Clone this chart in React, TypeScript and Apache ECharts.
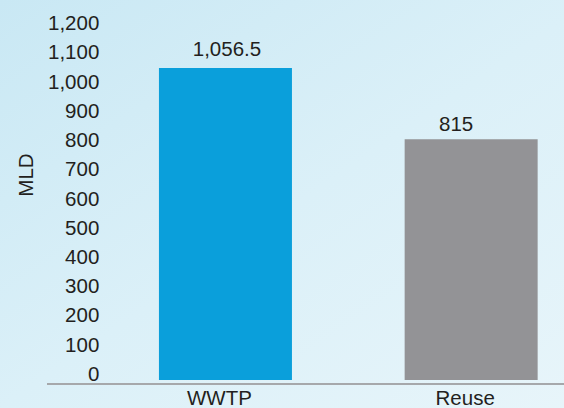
import React, { useEffect, useRef } from "react";
import * as echarts from "echarts";

const categories = ["WWTP", "Reuse"];
const values = [1056.5, 815];
const yMin = 0;
const yMax = 1200;
const yStep = 100;
const yAxisTitle = "MLD";

const barColors = ["#0a9fdb", "#939396"];
const valueLabelShifts = [
  [1.5, -3],
  [-15, 1],
];

export default function App() {
  const ref = useRef<HTMLDivElement>(null);

  useEffect(() => {
    if (!ref.current) return;
    const chart = echarts.init(ref.current, null, { renderer: "svg" });
    const font = "'Liberation Sans', Arial, Helvetica, sans-serif";
    const textColor = "#231f20";
    const fmt = (v: number) => Number(v).toLocaleString("en-US");

    chart.setOption({
      animation: false,
      backgroundColor: new echarts.graphic.LinearGradient(0, 0, 1, 1, [
        { offset: 0, color: "#c9e8f4" },
        { offset: 0.5, color: "#dbf0f8" },
        { offset: 1, color: "#e8f5fa" },
      ]),
      textStyle: { fontFamily: font },
      grid: [
        { left: 102.6, right: 0, top: 25.5, bottom: 24 },
        { left: 102.6, right: 0, top: 22.7, bottom: 34.7 },
      ],
      xAxis: [
        {
          type: "category",
          gridIndex: 0,
          data: categories,
          axisLine: { show: false },
          axisTick: { show: false },
          axisLabel: {
            color: textColor,
            fontSize: 20.5,
            fontFamily: font,
            margin: 7,
            padding: [0, 12, 0, 0],
          },
        },
        { type: "category", gridIndex: 1, data: categories, show: false },
      ],
      yAxis: [
        { type: "value", gridIndex: 0, min: yMin, max: yMax, interval: yStep, show: false },
        {
          type: "value",
          gridIndex: 1,
          min: yMin,
          max: yMax,
          interval: yStep,
          axisLine: { show: false },
          axisTick: { show: false },
          splitLine: { show: false },
          axisLabel: {
            color: textColor,
            fontSize: 20.5,
            fontFamily: font,
            margin: 3.3,
            formatter: (v: number) => fmt(v),
          },
        },
      ],
      series: [
        {
          type: "bar",
          xAxisIndex: 0,
          yAxisIndex: 0,
          barWidth: 133,
          data: values.map((v, i) => ({
            value: v,
            itemStyle: { color: barColors[i] },
            label: { offset: valueLabelShifts[i] },
          })),
          label: {
            show: true,
            position: "top",
            distance: 6,
            color: textColor,
            fontSize: 20.5,
            fontFamily: font,
            formatter: (p: any) => fmt(p.value),
          },
        },
      ],
      graphic: [
        {
          type: "line",
          z: 100,
          shape: { x1: 47, y1: 384, x2: 594, y2: 384 },
          style: { stroke: "#a6a8ab", lineWidth: 2 },
        },
        {
          type: "text",
          x: 25,
          y: 175,
          rotation: Math.PI / 2,
          style: {
            text: yAxisTitle,
            fill: textColor,
            fontSize: 20.5,
            fontFamily: font,
            align: "center",
            verticalAlign: "middle",
          },
        },
      ],
    });
    return () => chart.dispose();
  }, []);

  return (
    <div
      style={{
        position: "fixed",
        left: 0,
        top: 0,
        width: 564,
        height: 408,
        overflow: "hidden",
      }}
    >
      <div ref={ref} style={{ width: 594, height: 408 }} />
    </div>
  );
}
